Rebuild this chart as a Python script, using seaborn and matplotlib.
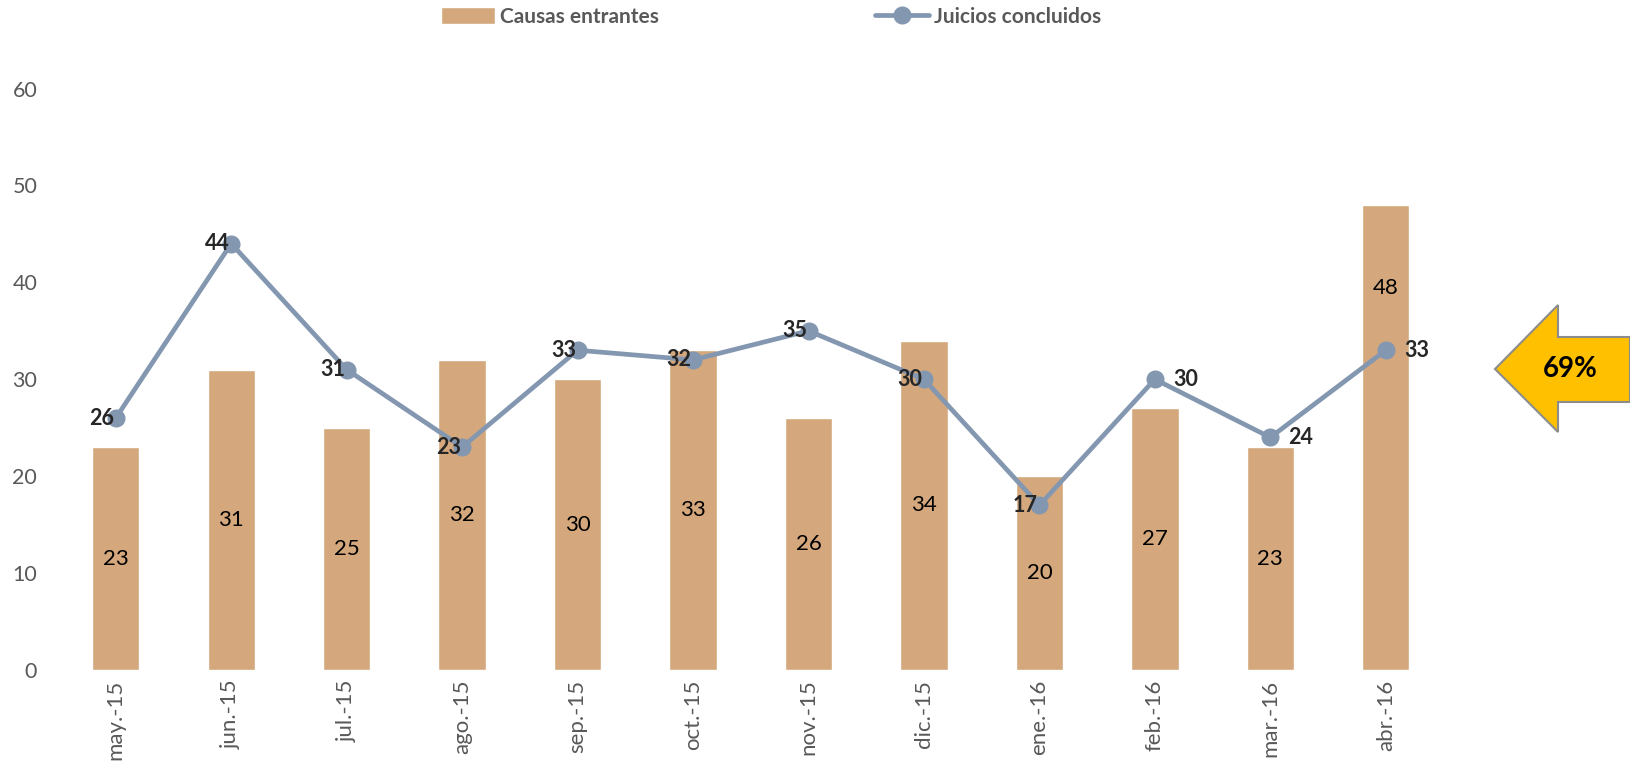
import matplotlib
matplotlib.use("Agg")
import matplotlib.pyplot as plt
from matplotlib.patches import Polygon
import seaborn as sns
import pandas as pd

# === Data ===
meses = ["may.-15", "jun.-15", "jul.-15", "ago.-15", "sep.-15", "oct.-15",
         "nov.-15", "dic.-15", "ene.-16", "feb.-16", "mar.-16", "abr.-16"]
causas = [23, 31, 25, 32, 30, 33, 26, 34, 20, 27, 23, 48]
juicios = [26, 44, 31, 23, 33, 32, 35, 30, 17, 30, 24, 33]
etiqueta_flecha = "69%"

BAR = "#D4A87C"
LINE = "#8497B0"
GRAY = "#595959"

sns.set_style("white")
plt.rcParams['font.family'] = ['Lato', 'DejaVu Sans']

df = pd.DataFrame({"mes": meses, "causas": causas, "juicios": juicios})

fig = plt.figure(figsize=(16.3, 7.67), dpi=100)
ax = fig.add_axes([0.0356, 0.1265, 0.85, 0.758])

sns.barplot(data=df, x="mes", y="causas", color=BAR, width=0.41,
            saturation=1, ax=ax, label="Causas entrantes")
labels = ax.bar_label(ax.containers[0], label_type="center", fontsize=16, color="black")
# last label sits higher up in the bar, clear of the line
labels[-1].remove()
ax.text(len(meses) - 1, 39.4, str(causas[-1]), ha="center", va="center",
        fontsize=16, color="black")

xs = range(len(meses))
ax.plot(xs, df["juicios"], color=LINE, lw=3.4, marker="o", markersize=12,
        label="Juicios concluidos", zorder=5)

# line value labels: left of point, last three to the right
for i, v in enumerate(juicios):
    if i >= 9:
        ax.annotate(str(v), (i, v), xytext=(13, 0), textcoords="offset points",
                    ha="left", va="center", fontsize=15.5, fontweight="bold", zorder=6)
    else:
        ax.annotate(str(v), (i, v), xytext=(-1, 0), textcoords="offset points",
                    ha="right", va="center", fontsize=15.5, fontweight="bold", zorder=6)

ax.set_ylim(0, 60)
ax.set_yticks(range(0, 61, 10))
ax.set_xlim(-0.5, len(meses) - 0.5)
ax.set_xlabel("")
ax.set_ylabel("")
sns.despine(ax=ax, left=True, bottom=True)
ax.tick_params(axis="x", rotation=90, labelsize=16, labelcolor=GRAY, length=0, pad=7)
ax.tick_params(axis="y", labelsize=15.5, labelcolor=GRAY, length=0, pad=15)

h, l = ax.get_legend_handles_labels()
if ax.get_legend() is not None:
    ax.get_legend().remove()
order = [l.index("Causas entrantes"), l.index("Juicios concluidos")]
fig.legend([h[k] for k in order], [l[k] for k in order], loc="center",
           bbox_to_anchor=(0.473, 0.978), ncol=2, frameon=False,
           prop={"weight": "bold", "size": 15}, labelcolor=GRAY, columnspacing=10.4,
           handlelength=2.6, handleheight=0.9, handletextpad=0.2)

# yellow arrow pointing left
W, H = fig.get_size_inches() * fig.dpi
pts = [(1495, 369), (1558, 305), (1558, 337), (1630, 337), (1630, 402),
       (1558, 402), (1558, 432)]
poly = Polygon([(x / W, 1 - y / H) for x, y in pts], closed=True,
               facecolor="#FFC000", edgecolor="#8C8C8C", lw=1.5,
               transform=fig.transFigure)
fig.patches.append(poly)
fig.text(1570 / W, 1 - 369 / H, etiqueta_flecha, ha="center", va="center",
         fontsize=20, fontweight="bold", color="black")

fig.savefig("out.png", dpi=100)
